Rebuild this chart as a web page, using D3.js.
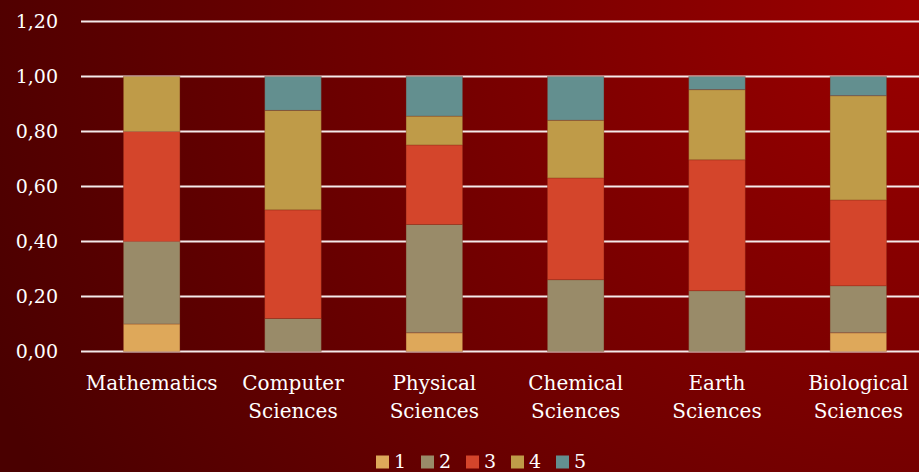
<!DOCTYPE html>
<html>
<head>
<meta charset="utf-8">
<script src="https://cdn.jsdelivr.net/npm/d3@7"></script>
<style>
  html, body { margin: 0; padding: 0; background: #5a0000; }
  svg { display: block; }
  text { font-family: "DejaVu Serif", "Liberation Serif", serif; fill: #ffffff; }
</style>
</head>
<body>
<svg id="chart" width="919" height="472"></svg>
<script>
// Fields of study, each split into five shares that sum to 1
const categories = [
  ["Mathematics"],
  ["Computer", "Sciences"],
  ["Physical", "Sciences"],
  ["Chemical", "Sciences"],
  ["Earth", "Sciences"],
  ["Biological", "Sciences"]
];
const seriesNames = ["1", "2", "3", "4", "5"];
const share1 = [0.10, 0.00, 0.068, 0.00, 0.00, 0.068];
const share2 = [0.30, 0.12, 0.394, 0.261, 0.221, 0.171];
const share3 = [0.40, 0.395, 0.289, 0.370, 0.476, 0.312];
const share4 = [0.20, 0.362, 0.105, 0.210, 0.255, 0.379];
const share5 = [0.00, 0.123, 0.144, 0.159, 0.048, 0.070];
const yTicks = [0, 0.2, 0.4, 0.6, 0.8, 1.0, 1.2];
const colors = ["#dea85a", "#998b69", "#d4452b", "#bf9b48", "#638f8f"];

const svg = d3.select("#chart");
const W = 919, H = 472;

// Background: radial red glow from the upper right
const defs = svg.append("defs");
const grad = defs.append("radialGradient")
  .attr("id", "bg").attr("gradientUnits", "userSpaceOnUse")
  .attr("cx", W).attr("cy", 0).attr("r", 1000);
grad.append("stop").attr("offset", "0%").attr("stop-color", "#9c0000");
grad.append("stop").attr("offset", "100%").attr("stop-color", "#4a0000");
svg.append("rect").attr("width", W).attr("height", H).attr("fill", "url(#bg)");

const plot = { left: 81, right: 929, top: 21.5, bottom: 351.5 };

const x = d3.scaleBand()
  .domain(categories.map(c => c.join(" ")))
  .range([plot.left, plot.right])
  .paddingInner(0.6).paddingOuter(0.3);

const y = d3.scaleLinear().domain([0, 1.2]).range([plot.bottom, plot.top]);

// Horizontal gridlines
svg.append("g").selectAll("line").data(yTicks).join("line")
  .attr("x1", plot.left).attr("x2", W)
  .attr("y1", d => y(d)).attr("y2", d => y(d))
  .attr("stroke", "#f4eaea").attr("stroke-width", 2);

// Y axis labels with comma decimals
const fmt = d => d3.format(".2f")(d).replace(".", ",");
const yAxis = d3.axisLeft(y).tickValues(yTicks).tickFormat(fmt).tickSize(0).tickPadding(0);
const yg = svg.append("g").attr("transform", `translate(58,0)`).call(yAxis);
yg.select(".domain").remove();
yg.selectAll("text").attr("font-size", 19).attr("fill", "#fff")
  .attr("font-family", "DejaVu Serif, serif");

// Stacked bars
const rows = categories.map((c, i) => ({
  key: c.join(" "),
  "1": share1[i], "2": share2[i], "3": share3[i], "4": share4[i], "5": share5[i]
}));
const stacked = d3.stack().keys(seriesNames)(rows);

svg.append("g").selectAll("g").data(stacked).join("g")
  .attr("fill", (d, i) => colors[i])
  .selectAll("rect").data(d => d).join("rect")
  .attr("x", d => x(d.data.key))
  .attr("width", x.bandwidth())
  .attr("y", d => y(d[1]))
  .attr("height", d => Math.max(0, y(d[0]) - y(d[1])))
  .attr("stroke", "rgba(120,40,20,0.35)").attr("stroke-width", 0.8);

// Category labels (two lines where needed)
const xl = svg.append("g");
categories.forEach(c => {
  const cx = x(c.join(" ")) + x.bandwidth() / 2;
  const t = xl.append("text").attr("text-anchor", "middle").attr("font-size", 20);
  c.forEach((line, j) => {
    t.append("tspan").attr("x", cx).attr("y", 390 + j * 28).text(line);
  });
});

// Legend
const legend = svg.append("g");
const legX = [376, 421, 466, 511, 556];
seriesNames.forEach((s, i) => {
  legend.append("rect").attr("x", legX[i]).attr("y", 455.5).attr("width", 13).attr("height", 13)
    .attr("fill", colors[i]);
  legend.append("text").attr("x", legX[i] + 18).attr("y", 467.5).attr("font-size", 19).text(s);
});
</script>
</body>
</html>
